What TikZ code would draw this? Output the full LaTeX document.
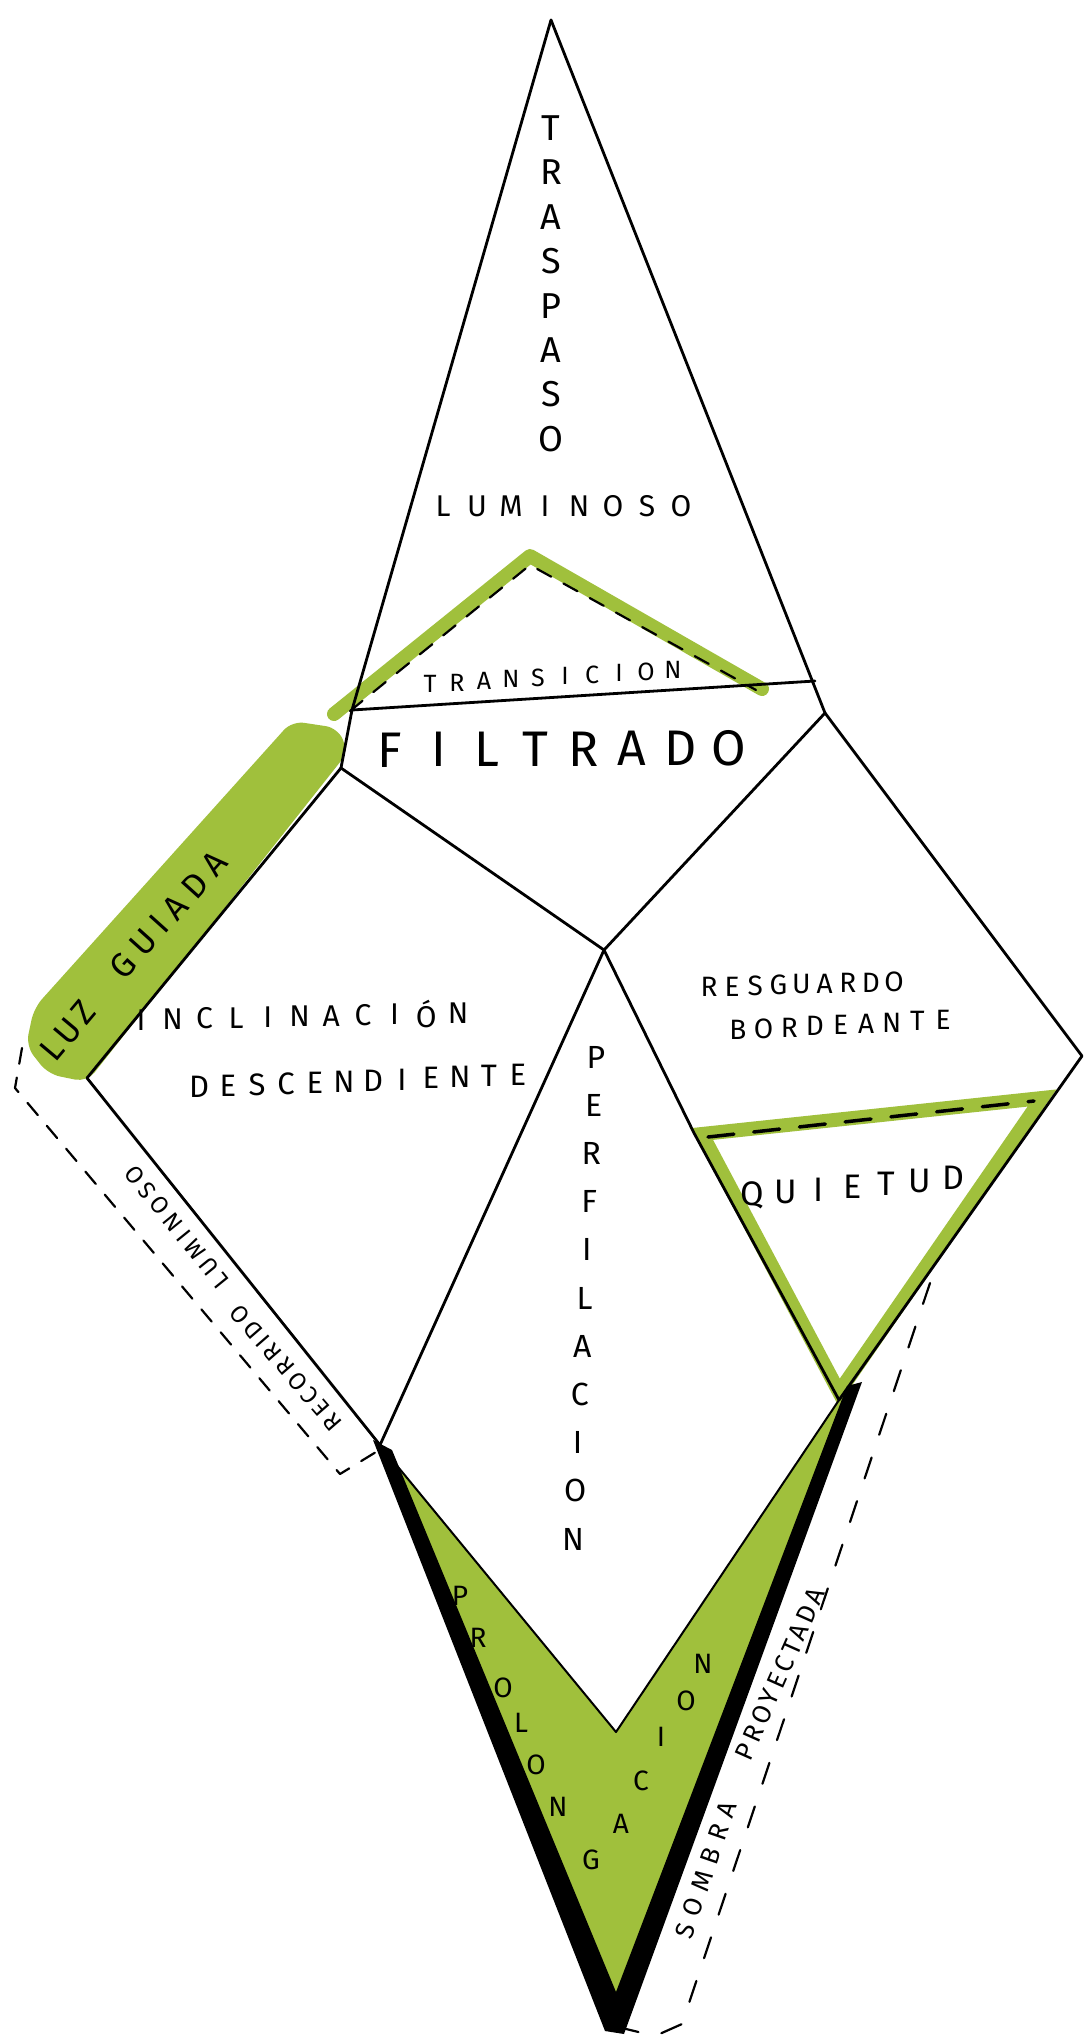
\documentclass[tikz,border=0pt]{standalone}
\usepackage{fontspec}
\setmainfont{Fira Sans}
\usetikzlibrary{calc}
\definecolor{leaf}{RGB}{160,192,60}
\newcommand{\fsz}[1]{\fontsize{#1}{#1}\selectfont}
% name, start, end, (letters-1), letters, style
\newcommand{\spreadword}[6]{%
  \foreach \ch [count=\k from 0] in {#5} {\node[lett,#6] (#1-\k) at ($#2!{\k/#4}!#3$) {\ch};}}
\begin{document}
\begin{tikzpicture}[x=1pt,y=-1pt,line join=round,line cap=round,
  edge/.style={line width=2.8pt},
  thinedge/.style={line width=2pt},
  lett/.style={inner sep=0pt,font=\fsz{28}},
  tilted/.style={inner sep=0pt},
  hband/.style={leaf,line width=14pt},
  dashA/.style={line width=2.2pt,dash pattern=on 16pt off 14pt},
  dashB/.style={line width=2.2pt,dash pattern=on 22pt off 24pt},
  dashC/.style={line width=3.5pt,dash pattern=on 26pt off 20pt}]
\useasboundingbox[fill=white] (0,0) rectangle (1086,2039);

\coordinate (A) at (551,20);
\coordinate (TL) at (352,710);
\coordinate (TR) at (815,681);
\coordinate (RJ) at (825,713);
\coordinate (LJ) at (341,768);
\coordinate (C) at (604,950);
\coordinate (LP) at (87,1078);
\coordinate (RP) at (1082,1056);
\coordinate (BL) at (380,1445);
\coordinate (QL) at (694,1133);
\coordinate (QB) at (839,1400);
\coordinate (VB) at (613,2022);
\coordinate (VI) at (616,1732);
\coordinate (VR) at (853,1386);

% green highlights
\fill[leaf,rounded corners=12pt] (87,1082) -- (348,752) -- (338,728) -- (292,721) -- (34,1008) -- (26,1046) -- (48,1074) -- cycle;
\draw[hband] (334,714) -- (530,556) -- (762,689);
\draw[hband,line join=miter] (702,1134) -- (1042,1098) -- (839,1392) -- cycle;
\fill[leaf] (BL) -- (VB) -- (VR) -- (QB) -- (VI) -- cycle;

% black V
\fill[black] (373,1440) -- (605,2031) -- (624,2034) -- (862,1382) -- (847,1386) -- (616,1992) -- (392,1450) -- cycle;

% polygon edges
\draw[edge] (A) -- (TL) -- (LJ);
\draw[edge] (A) -- (RJ);
\draw[edge] (TL) -- (TR);
\draw[edge] (LJ) -- (C) -- (RJ);
\draw[edge] (LJ) -- (LP) -- (BL);
\draw[edge] (RJ) -- (RP) -- (QB);
\draw[edge] (C) -- (BL);
\draw[edge] (C) -- (QL) -- (QB);
\draw[thinedge] (BL) -- (VI) -- (QB);

% dashed lines
\draw[dashA] (350,711) -- (530,565) -- (756,690);
\draw[dashC] (708,1137) -- (1034,1101);
\draw[dashA] (22,1048) -- (15,1088) -- (340,1474) -- (376,1452);
\draw[dashB] (930,1283) -- (682,2024) -- (655,2036) -- (622,2028);

% texts
\spreadword{tra}{(551,128)}{(551,439)}{7}{T,R,A,S,P,A,S,O}{font=\fsz{36}}
\spreadword{lum}{(443,506)}{(681,506)}{7}{L,U,M,I,N,O,S,O}{font=\fsz{30}}
\spreadword{trn}{(430,684)}{(673,670)}{9}{T,R,A,N,S,I,C,I,O,N}{font=\fsz{25}}
\spreadword{fil}{(390,750)}{(729,748)}{7}{F,I,L,T,R,A,D,O}{font=\fsz{50}}
\spreadword{inc}{(141,1020)}{(458,1013)}{10}{I,N,C,L,I,N,A,C,I,Ó,N}{font=\fsz{30}}
\spreadword{des}{(199,1087)}{(518,1075)}{11}{D,E,S,C,E,N,D,I,E,N,T,E}{font=\fsz{31}}
\spreadword{res}{(709,987)}{(894,982)}{8}{R,E,S,G,U,A,R,D,O}{font=\fsz{28}}
\spreadword{bor}{(738,1030)}{(943,1020)}{8}{B,O,R,D,E,A,N,T,E}{font=\fsz{28}}
\spreadword{qui}{(752,1195)}{(953,1178)}{6}{Q,U,I,E,T,U,D}{font=\fsz{34}}
\spreadword{per}{(596,1057)}{(573,1539)}{10}{P,E,R,F,I,L,A,C,I,O,N}{font=\fsz{32}}
\foreach \ch/\px/\py [count=\k] in {P/460/1596,R/478/1638,O/503/1688,L/521/1723,O/536/1765,N/558/1807,G/591/1860,A/621/1824,C/641/1781,I/661/1737,O/686/1701,N/703/1664}
  {\node[lett,font=\fsz{28}] (pro-\k) at (\px,\py) {\ch};}
\node[tilted,rotate=50,font=\fsz{34}\addfontfeature{LetterSpace=15}] (luz) at (68,1031) {LUZ};
\node[tilted,rotate=48,font=\fsz{34}\addfontfeature{LetterSpace=25}] (guiada) at (168,915) {GUIADA};
\node[tilted,rotate=131,font=\fsz{24}\addfontfeature{LetterSpace=17}] (reco) at (286,1368) {RECORRIDO};
\node[tilted,rotate=129,font=\fsz{24}\addfontfeature{LetterSpace=21}] (rlum) at (177,1227) {LUMINOSO};
\node[tilted,rotate=71,font=\fsz{26}\addfontfeature{LetterSpace=34}] (somb) at (706,1870) {SOMBRA};
\node[tilted,rotate=66,font=\fsz{26}\addfontfeature{LetterSpace=16}] (proy) at (780,1674) {PROYECTADA};
\end{tikzpicture}
\end{document}
